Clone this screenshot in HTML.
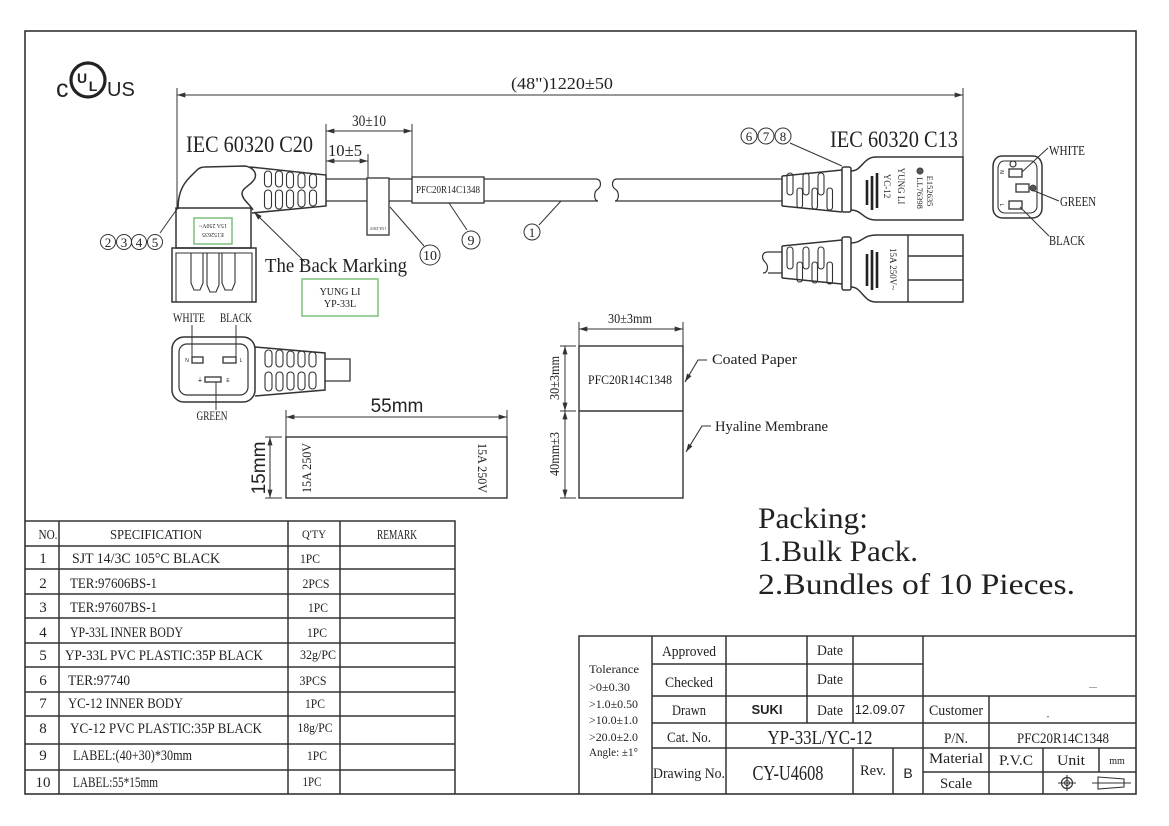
<!DOCTYPE html>
<html><head><meta charset="utf-8"><style>
html,body{margin:0;padding:0;background:#fff;}
svg{display:block;}
text{font-family:"Liberation Serif","Noto Serif CJK SC",serif;fill:#222;stroke:none;}
.s{font-family:"Liberation Sans","Noto Sans CJK SC",sans-serif;}
</style></head><body>
<svg width="1169" height="826" viewBox="0 0 1169 826" xmlns="http://www.w3.org/2000/svg">
<defs>
<marker id="ar" viewBox="0 0 10 6" refX="10" refY="3" markerWidth="9" markerHeight="5" orient="auto-start-reverse" markerUnits="userSpaceOnUse"><path d="M0,0 L10,3 L0,6 z" fill="#333"/></marker>
</defs>
<rect width="1169" height="826" fill="#fff"/>
<g fill="none" stroke="#333" stroke-width="1.3">
<!-- frame -->
<rect x="25" y="31" width="1111" height="763" stroke-width="1.6"/>

<!-- top dimension -->
<line x1="177" y1="95" x2="963" y2="95" marker-start="url(#ar)" marker-end="url(#ar)" stroke-width="1"/>
<line x1="177" y1="88" x2="177" y2="210" stroke-width="1"/>
<line x1="963" y1="88" x2="963" y2="157" stroke-width="1"/>
<line x1="326" y1="131" x2="412" y2="131" marker-start="url(#ar)" marker-end="url(#ar)" stroke-width="1"/>
<line x1="326" y1="124" x2="326" y2="179" stroke-width="1"/>
<line x1="412" y1="124" x2="412" y2="177" stroke-width="1"/>
<line x1="326" y1="161" x2="368" y2="161" marker-start="url(#ar)" marker-end="url(#ar)" stroke-width="1"/>
<line x1="368" y1="154" x2="368" y2="178" stroke-width="1"/>

<!-- cUL logo -->
<circle cx="88" cy="80" r="17" stroke="#222" stroke-width="3.2"/>

<!-- C20 connector (top) -->
<path d="M178,209 C178,196 181,186 190,177 L197,170 C199,168 201,167 205,167 L245,166 C252,167 257,172 255,178 C252,185 243,187 242,193 C242,200 250,204 253,210" stroke-width="1.5"/>
<rect x="176" y="208" width="75" height="40" stroke-width="1.5"/>
<rect x="172" y="248" width="84" height="54" stroke-width="1.5"/>
<path d="M176,302 V253 H252 V302" stroke-width="1.1"/>
<path d="M191,253 V283 L194,290 H200 L203,283 V253 M207,253 V285 L210,292 H216 L219,285 V253 M222,253 V283 L225,290 H232 L235,283 V253" stroke-width="1.1"/>
<rect x="194" y="218" width="38" height="26" stroke="#7dbf7d" stroke-width="1.5"/>
<path d="M250,167 L326,175 V206 L252,213" stroke-width="1.5"/>
<g stroke-width="1.1">
<rect x="264.5" y="171" width="7" height="16" rx="3.5"/><rect x="275.5" y="171" width="7" height="16" rx="3.5"/><rect x="286.5" y="172" width="7" height="16" rx="3.5"/><rect x="298" y="173" width="7" height="15" rx="3.5"/><rect x="309.5" y="174" width="7" height="14" rx="3.5"/>
<rect x="264.5" y="190" width="7" height="19" rx="3.5"/><rect x="275.5" y="190" width="7" height="19" rx="3.5"/><rect x="286.5" y="190" width="7" height="18" rx="3.5"/><rect x="298" y="190" width="7" height="17" rx="3.5"/><rect x="309.5" y="190" width="7" height="16" rx="3.5"/>
</g>
<!-- cable -->
<path d="M326,179 H596 M326,201 H598" stroke-width="1.3"/>
<path d="M596,179 C601,179 602,186 598,189 C593,192 594,201 598,201" stroke-width="1.2"/>
<path d="M617,179 C612,179 611,186 615,189 C620,192 619,201 615,201" stroke-width="1.2"/>
<path d="M617,179 H782 M615,201 H782" stroke-width="1.3"/>
<!-- flag label 10 -->
<rect x="367" y="178" width="22" height="57" fill="#fff" stroke-width="1.3"/>
<!-- PFC label -->
<rect x="412" y="177" width="72" height="26" fill="#fff" stroke-width="1.3"/>
<!-- leaders -->
<line x1="390" y1="207" x2="424" y2="246" stroke-width="1"/>
<circle cx="430" cy="255" r="10" stroke-width="1"/>
<line x1="449" y1="203" x2="467" y2="230" stroke-width="1"/>
<circle cx="471" cy="240" r="9" stroke-width="1"/>
<line x1="561" y1="201" x2="539" y2="225" stroke-width="1"/>
<circle cx="532" cy="232" r="8" stroke-width="1"/>
<line x1="160" y1="233" x2="177" y2="209" stroke-width="1"/>
<circle cx="108" cy="242" r="7.5" stroke-width="1"/><circle cx="124" cy="242" r="7.5" stroke-width="1"/><circle cx="139" cy="242" r="7.5" stroke-width="1"/><circle cx="155" cy="242" r="7.5" stroke-width="1"/>
<line x1="305" y1="262" x2="254" y2="212" marker-end="url(#ar)" stroke-width="1"/>
<rect x="302" y="279" width="76" height="37" stroke="#7dbf7d" stroke-width="1.5"/>

<!-- C20 face (middle) -->
<rect x="172" y="337" width="83" height="65" rx="12" stroke-width="1.5"/>
<rect x="179" y="344" width="69" height="51" rx="8" stroke-width="1.2"/>
<rect x="192" y="357" width="11" height="6" stroke-width="1.3"/>
<rect x="223" y="357" width="13" height="6" stroke-width="1.3"/>
<rect x="205" y="377" width="16" height="5" stroke-width="1.3"/>
<line x1="192" y1="325" x2="192" y2="358" stroke-width="1"/>
<line x1="236" y1="325" x2="236" y2="358" stroke-width="1"/>
<line x1="216" y1="382" x2="216" y2="410" stroke-width="1"/>
<path d="M255,347 L325,353 V390 L255,396" stroke-width="1.5"/>
<g stroke-width="1.1">
<rect x="265" y="350" width="7" height="17" rx="3.5"/><rect x="276" y="350" width="7" height="17" rx="3.5"/><rect x="287" y="351" width="7" height="16" rx="3.5"/><rect x="298" y="351" width="7" height="16" rx="3.5"/><rect x="309" y="352" width="7" height="15" rx="3.5"/>
<rect x="265" y="372" width="7" height="19" rx="3.5"/><rect x="276" y="372" width="7" height="19" rx="3.5"/><rect x="287" y="372" width="7" height="18" rx="3.5"/><rect x="298" y="372" width="7" height="18" rx="3.5"/><rect x="309" y="372" width="7" height="17" rx="3.5"/>
</g>
<path d="M325,359 H350 V381 H325" stroke-width="1.3"/>

<!-- 55x15 label -->
<line x1="286" y1="417" x2="507" y2="417" marker-start="url(#ar)" marker-end="url(#ar)" stroke-width="1"/>
<line x1="286" y1="410" x2="286" y2="437" stroke-width="1"/>
<line x1="507" y1="410" x2="507" y2="437" stroke-width="1"/>
<rect x="286" y="437" width="221" height="61" stroke-width="1.4"/>
<line x1="270" y1="437" x2="270" y2="498" marker-start="url(#ar)" marker-end="url(#ar)" stroke-width="1"/>
<line x1="265" y1="437" x2="282" y2="437" stroke-width="1"/>
<line x1="265" y1="498" x2="282" y2="498" stroke-width="1"/>

<!-- 30x70 label -->
<line x1="579" y1="329" x2="683" y2="329" marker-start="url(#ar)" marker-end="url(#ar)" stroke-width="1"/>
<line x1="579" y1="322" x2="579" y2="346" stroke-width="1"/>
<line x1="683" y1="322" x2="683" y2="346" stroke-width="1"/>
<rect x="579" y="346" width="104" height="152" stroke-width="1.4"/>
<line x1="579" y1="411" x2="683" y2="411" stroke-width="1.4"/>
<line x1="565" y1="346" x2="565" y2="411" marker-start="url(#ar)" marker-end="url(#ar)" stroke-width="1"/>
<line x1="565" y1="411" x2="565" y2="498" marker-start="url(#ar)" marker-end="url(#ar)" stroke-width="1"/>
<line x1="560" y1="346" x2="576" y2="346" stroke-width="1"/>
<line x1="560" y1="411" x2="576" y2="411" stroke-width="1"/>
<line x1="560" y1="498" x2="576" y2="498" stroke-width="1"/>
<polyline points="707,360 698,360 685,382" marker-end="url(#ar)" stroke-width="1.1"/>
<polyline points="711,426 702,426 686,452" marker-end="url(#ar)" stroke-width="1.1"/>

<!-- C13 connector upper -->
<path d="M782,176 L842,170 M782,206 L842,212 M782,176 V206" stroke-width="1.5"/>
<rect x="842" y="167" width="9" height="45" rx="2" stroke-width="1.5"/>
<path d="M851,171 C862,171 863,157 876,157 H963 V220 H876 C863,220 862,210 851,210" stroke-width="1.5"/>
<g stroke-width="1.1">
<rect x="787" y="173" width="6" height="22" rx="3"/><rect x="803" y="173" width="6" height="22" rx="3"/><rect x="818" y="173" width="6" height="22" rx="3"/>
<rect x="797" y="188" width="5.5" height="20" rx="2.7"/><rect x="812" y="188" width="5.5" height="21" rx="2.7"/><rect x="827" y="188" width="5.5" height="22" rx="2.7"/>
</g>
<path d="M867,180 V205 M872,176 V210 M877,173 V208" stroke="#222" stroke-width="2.6"/>
<circle cx="920" cy="171" r="3.2" fill="#555" stroke-width="0.6"/>
<line x1="790" y1="143" x2="842" y2="166" stroke-width="1"/>
<circle cx="749" cy="136" r="8" stroke-width="1"/><circle cx="766" cy="136" r="8" stroke-width="1"/><circle cx="783" cy="136" r="8" stroke-width="1"/>

<!-- C13 connector lower -->
<path d="M768,252 H782 M768,273 H782" stroke-width="1.3"/>
<path d="M768,252 C762,252 761,258 765,262 C769,266 768,273 763,273" stroke-width="1.2"/>
<path d="M782,246 L842,240 M782,278 L842,284 M782,246 V278" stroke-width="1.5"/>
<rect x="842" y="237" width="9" height="53" rx="2" stroke-width="1.5"/>
<path d="M851,243 C862,243 863,235 876,235 H963 V302 H876 C863,302 862,287 851,287" stroke-width="1.5"/>
<path d="M908,235 V302 M908,256 H963 M908,280 H963" stroke-width="1.4"/>
<g stroke-width="1.1">
<rect x="787" y="247" width="6" height="22" rx="3"/><rect x="803" y="247" width="6" height="22" rx="3"/><rect x="818" y="247" width="6" height="22" rx="3"/>
<rect x="797" y="262" width="5.5" height="20" rx="2.7"/><rect x="812" y="262" width="5.5" height="21" rx="2.7"/><rect x="827" y="262" width="5.5" height="22" rx="2.7"/>
</g>
<path d="M867,254 V286 M872,250 V290 M877,252 V288" stroke="#222" stroke-width="2.6"/>

<!-- C13 face right -->
<path d="M1002,156 H1033 C1039,156 1042,161 1042,167 V208 C1042,214 1038,218 1032,218 H1003 C997,218 993,214 993,208 V167 C993,161 996,156 1002,156 Z" stroke-width="1.5"/>
<path d="M1004,161 H1031 C1035,161 1037,165 1037,169 V206 C1037,210 1034,213 1030,213 H1005 C1001,213 998,210 998,206 V169 C998,165 1000,161 1004,161 Z" stroke-width="1.1"/>
<rect x="1009" y="169" width="13" height="8" stroke-width="1.3"/>
<rect x="1016" y="184" width="13" height="8" stroke-width="1.3"/>
<rect x="1009" y="201" width="13" height="8" stroke-width="1.3"/>
<circle cx="1013" cy="164" r="3" stroke-width="1.2"/>
<circle cx="1033" cy="188" r="3" fill="#555" stroke-width="0.8"/>
<line x1="1048" y1="148" x2="1022" y2="172" stroke-width="1"/>
<line x1="1059" y1="201" x2="1032" y2="190" stroke-width="1"/>
<line x1="1049" y1="236" x2="1020" y2="207" stroke-width="1"/>

<!-- parts table -->
<g stroke-width="1.5">
<path d="M25,521 H455 V794 M59,521 V794 M288,521 V794 M340,521 V794"/>
<path d="M25,546 H455 M25,569 H455 M25,594 H455 M25,618 H455 M25,643 H455 M25,667 H455 M25,692 H455 M25,716 H455 M25,744 H455 M25,770 H455"/>
</g>

<!-- title block -->
<g stroke-width="1.5">
<path d="M579,794 V636 H1136"/>
<path d="M652,636 V794 M726,636 V794 M807,636 V723 M853,636 V723 M853,748 V794 M893,748 V794 M923,636 V794"/>
<path d="M652,664 H923 M652,696 H1136 M652,723 H1136 M652,748 H1136 M923,772 H1136"/>
<path d="M989,696 V794 M1043,748 V794 M1099,748 V772"/>
</g>
<circle cx="1067" cy="783" r="5.5" stroke-width="1.2"/>
<path d="M1058,783 H1076 M1067,775 V791" stroke-width="1.1"/>
<circle cx="1067" cy="783" r="2.5" stroke-width="1"/>
<path d="M1098,777 L1124,779 V787 L1098,789 Z M1092,783 H1131" stroke-width="1.1"/>
</g>

<!-- ===== TEXT ===== -->
<text class="s" x="56" y="97" font-size="25">c</text>
<text class="s" x="82" y="83" font-size="14" font-weight="bold" text-anchor="middle">U</text>
<text class="s" x="93" y="91" font-size="14" font-weight="bold" text-anchor="middle">L</text>
<text class="s" x="107" y="96" font-size="20">US</text>

<text x="562" y="89" font-size="17" text-anchor="middle" textLength="102" lengthAdjust="spacingAndGlyphs">(48")1220±50</text>
<text x="369" y="126" font-size="16" text-anchor="middle" textLength="34" lengthAdjust="spacingAndGlyphs">30±10</text>
<text x="328" y="156" font-size="17" textLength="34" lengthAdjust="spacingAndGlyphs">10±5</text>
<text x="186" y="152" font-size="23" textLength="127" lengthAdjust="spacingAndGlyphs">IEC 60320 C20</text>
<text x="830" y="147" font-size="23" textLength="128" lengthAdjust="spacingAndGlyphs">IEC 60320 C13</text>

<g transform="rotate(180 213 231)">
<text x="213" y="229" font-size="6" text-anchor="middle">E152635</text>
<text x="213" y="238" font-size="6" text-anchor="middle">15A 250V~</text>
</g>
<text x="378" y="231" font-size="4" text-anchor="middle" transform="rotate(180 378 229)">15A 250V</text>
<text x="448" y="193" font-size="10.5" text-anchor="middle" textLength="64" lengthAdjust="spacingAndGlyphs">PFC20R14C1348</text>

<text x="430" y="260" font-size="14" text-anchor="middle">10</text>
<text x="471" y="245" font-size="14" text-anchor="middle">9</text>
<text x="532" y="237" font-size="13" text-anchor="middle">1</text>
<text x="108" y="247" font-size="13" text-anchor="middle">2</text>
<text x="124" y="247" font-size="13" text-anchor="middle">3</text>
<text x="139" y="247" font-size="13" text-anchor="middle">4</text>
<text x="155" y="247" font-size="13" text-anchor="middle">5</text>
<text x="749" y="141" font-size="13" text-anchor="middle">6</text>
<text x="766" y="141" font-size="13" text-anchor="middle">7</text>
<text x="783" y="141" font-size="13" text-anchor="middle">8</text>

<text x="265" y="272" font-size="20" textLength="142" lengthAdjust="spacingAndGlyphs">The Back Marking</text>
<text x="340" y="295" font-size="10" text-anchor="middle">YUNG LI</text>
<text x="340" y="307" font-size="10" text-anchor="middle">YP-33L</text>

<text x="189" y="322" font-size="12.5" text-anchor="middle" textLength="32" lengthAdjust="spacingAndGlyphs">WHITE</text>
<text x="236" y="322" font-size="12.5" text-anchor="middle" textLength="32" lengthAdjust="spacingAndGlyphs">BLACK</text>
<text x="212" y="420" font-size="12.5" text-anchor="middle" textLength="31" lengthAdjust="spacingAndGlyphs">GREEN</text>
<text class="s" x="187" y="362" font-size="5" text-anchor="middle">N</text>
<text class="s" x="241" y="362" font-size="5" text-anchor="middle">L</text>
<text class="s" x="200" y="382" font-size="6" text-anchor="middle">⏚</text>
<text class="s" x="228" y="382" font-size="5" text-anchor="middle">E</text>

<text class="s" x="397" y="412" font-size="19" text-anchor="middle">55mm</text>
<text class="s" x="0" y="0" font-size="19" text-anchor="middle" transform="translate(265 468) rotate(-90)">15mm</text>
<text x="0" y="0" font-size="12.5" text-anchor="middle" transform="translate(311 468) rotate(-90)" textLength="50" lengthAdjust="spacingAndGlyphs">15A 250V</text>
<text x="0" y="0" font-size="12.5" text-anchor="middle" transform="translate(478 468) rotate(90)" textLength="50" lengthAdjust="spacingAndGlyphs">15A 250V</text>

<text x="630" y="323" font-size="13.5" text-anchor="middle" textLength="44" lengthAdjust="spacingAndGlyphs">30±3mm</text>
<text x="630" y="384" font-size="13" text-anchor="middle" textLength="84" lengthAdjust="spacingAndGlyphs">PFC20R14C1348</text>
<text x="0" y="0" font-size="13.5" text-anchor="middle" transform="translate(559 378) rotate(-90)" textLength="44" lengthAdjust="spacingAndGlyphs">30±3mm</text>
<text x="0" y="0" font-size="13.5" text-anchor="middle" transform="translate(559 454) rotate(-90)" textLength="44" lengthAdjust="spacingAndGlyphs">40mm±3</text>
<text x="712" y="364" font-size="15" textLength="85" lengthAdjust="spacingAndGlyphs">Coated Paper</text>
<text x="715" y="431" font-size="15" textLength="113" lengthAdjust="spacingAndGlyphs">Hyaline Membrane</text>

<text x="0" y="0" font-size="9" text-anchor="middle" transform="translate(898 186) rotate(90)">YUNG LI</text>
<text x="0" y="0" font-size="9" text-anchor="middle" transform="translate(884 186) rotate(90)">YC-12</text>
<text x="0" y="0" font-size="8.5" text-anchor="middle" transform="translate(917 193) rotate(90)">LL76398</text>
<text x="0" y="0" font-size="8.5" text-anchor="middle" transform="translate(927 191) rotate(90)">E152635</text>
<text x="0" y="0" font-size="9" text-anchor="middle" transform="translate(890 269) rotate(90)">15A 250V~</text>

<text class="s" x="1002" y="174" font-size="5" text-anchor="middle" transform="rotate(90 1002 172)">N</text>
<text class="s" x="1002" y="207" font-size="5" text-anchor="middle" transform="rotate(90 1002 205)">L</text>
<text x="1049" y="155" font-size="14" textLength="36" lengthAdjust="spacingAndGlyphs">WHITE</text>
<text x="1060" y="206" font-size="14" textLength="36" lengthAdjust="spacingAndGlyphs">GREEN</text>
<text x="1049" y="245" font-size="14" textLength="36" lengthAdjust="spacingAndGlyphs">BLACK</text>

<!-- packing -->
<text x="758" y="528" font-size="30" textLength="110" lengthAdjust="spacingAndGlyphs">Packing:</text>
<text x="758" y="561" font-size="30" textLength="160" lengthAdjust="spacingAndGlyphs">1.Bulk Pack.</text>
<text x="758" y="594" font-size="30" textLength="317" lengthAdjust="spacingAndGlyphs">2.Bundles of 10 Pieces.</text>

<!-- parts table text -->
<g font-size="15">
<text x="48" y="539" font-size="14" text-anchor="middle" textLength="19" lengthAdjust="spacingAndGlyphs">NO.</text>
<text x="156" y="539" font-size="14" text-anchor="middle" textLength="92" lengthAdjust="spacingAndGlyphs">SPECIFICATION</text>
<text x="314" y="538" font-size="12" text-anchor="middle" textLength="24" lengthAdjust="spacingAndGlyphs">Q'TY</text>
<text x="397" y="539" font-size="14" text-anchor="middle" textLength="40" lengthAdjust="spacingAndGlyphs">REMARK</text>

<text x="43" y="563" text-anchor="middle">1</text>
<text x="43" y="588" text-anchor="middle">2</text>
<text x="43" y="612" text-anchor="middle">3</text>
<text x="43" y="637" text-anchor="middle">4</text>
<text x="43" y="660" text-anchor="middle">5</text>
<text x="43" y="685" text-anchor="middle">6</text>
<text x="43" y="708" text-anchor="middle">7</text>
<text x="43" y="733" text-anchor="middle">8</text>
<text x="43" y="760" text-anchor="middle">9</text>
<text x="43" y="787" text-anchor="middle">10</text>

<text x="72" y="563" textLength="148" lengthAdjust="spacingAndGlyphs">SJT 14/3C 105°C BLACK</text>
<text x="70" y="588" textLength="87" lengthAdjust="spacingAndGlyphs">TER:97606BS-1</text>
<text x="70" y="612" textLength="87" lengthAdjust="spacingAndGlyphs">TER:97607BS-1</text>
<text x="70" y="637" textLength="113" lengthAdjust="spacingAndGlyphs">YP-33L INNER BODY</text>
<text x="65" y="660" textLength="198" lengthAdjust="spacingAndGlyphs">YP-33L PVC PLASTIC:35P BLACK</text>
<text x="68" y="685" textLength="62" lengthAdjust="spacingAndGlyphs">TER:97740</text>
<text x="68" y="708" textLength="115" lengthAdjust="spacingAndGlyphs">YC-12 INNER BODY</text>
<text x="70" y="733" textLength="192" lengthAdjust="spacingAndGlyphs">YC-12 PVC PLASTIC:35P BLACK</text>
<text x="73" y="760" textLength="119" lengthAdjust="spacingAndGlyphs">LABEL:(40+30)*30mm</text>
<text x="73" y="787" textLength="85" lengthAdjust="spacingAndGlyphs">LABEL:55*15mm</text>
</g>
<g font-size="12.5">
<text x="310" y="563" text-anchor="middle" textLength="20" lengthAdjust="spacingAndGlyphs">1PC</text>
<text x="316" y="588" text-anchor="middle" textLength="27" lengthAdjust="spacingAndGlyphs">2PCS</text>
<text x="318" y="612" text-anchor="middle" textLength="20" lengthAdjust="spacingAndGlyphs">1PC</text>
<text x="317" y="637" text-anchor="middle" textLength="20" lengthAdjust="spacingAndGlyphs">1PC</text>
<text x="318" y="659" text-anchor="middle" textLength="36" lengthAdjust="spacingAndGlyphs">32g/PC</text>
<text x="313" y="685" text-anchor="middle" textLength="27" lengthAdjust="spacingAndGlyphs">3PCS</text>
<text x="315" y="708" text-anchor="middle" textLength="20" lengthAdjust="spacingAndGlyphs">1PC</text>
<text x="315" y="732" text-anchor="middle" textLength="35" lengthAdjust="spacingAndGlyphs">18g/PC</text>
<text x="317" y="760" text-anchor="middle" textLength="20" lengthAdjust="spacingAndGlyphs">1PC</text>
<text x="312" y="786" text-anchor="middle" textLength="19" lengthAdjust="spacingAndGlyphs">1PC</text>
</g>

<!-- title block text -->
<g font-size="11.5">
<text x="589" y="673" textLength="50" lengthAdjust="spacingAndGlyphs">Tolerance</text>
<text x="589" y="691" textLength="41" lengthAdjust="spacingAndGlyphs">&gt;0±0.30</text>
<text x="589" y="708" textLength="49" lengthAdjust="spacingAndGlyphs">&gt;1.0±0.50</text>
<text x="589" y="724" textLength="49" lengthAdjust="spacingAndGlyphs">&gt;10.0±1.0</text>
<text x="589" y="741" textLength="49" lengthAdjust="spacingAndGlyphs">&gt;20.0±2.0</text>
<text x="589" y="756" textLength="49" lengthAdjust="spacingAndGlyphs">Angle: ±1°</text>
</g>
<g font-size="15" text-anchor="middle">
<text x="689" y="656" textLength="54" lengthAdjust="spacingAndGlyphs">Approved</text>
<text x="689" y="687" textLength="48" lengthAdjust="spacingAndGlyphs">Checked</text>
<text x="689" y="715" textLength="34" lengthAdjust="spacingAndGlyphs">Drawn</text>
<text x="689" y="742" textLength="44" lengthAdjust="spacingAndGlyphs">Cat. No.</text>
<text x="689" y="778" textLength="72" lengthAdjust="spacingAndGlyphs">Drawing No.</text>
<text x="830" y="655" textLength="26" lengthAdjust="spacingAndGlyphs">Date</text>
<text x="830" y="684" textLength="26" lengthAdjust="spacingAndGlyphs">Date</text>
<text x="830" y="715" textLength="26" lengthAdjust="spacingAndGlyphs">Date</text>
<text x="873" y="775" textLength="26" lengthAdjust="spacingAndGlyphs">Rev.</text>
<text x="956" y="715" textLength="54" lengthAdjust="spacingAndGlyphs">Customer</text>
<text x="956" y="743" textLength="24" lengthAdjust="spacingAndGlyphs">P/N.</text>
<text x="956" y="763" textLength="54" lengthAdjust="spacingAndGlyphs">Material</text>
<text x="956" y="788" textLength="32" lengthAdjust="spacingAndGlyphs">Scale</text>
<text x="1016" y="765" textLength="34" lengthAdjust="spacingAndGlyphs">P.V.C</text>
<text x="1071" y="765" textLength="28" lengthAdjust="spacingAndGlyphs">Unit</text>
<text x="1063" y="743" textLength="92" lengthAdjust="spacingAndGlyphs">PFC20R14C1348</text>
</g>
<text x="1117" y="764" font-size="10" text-anchor="middle">mm</text>
<text class="s" x="767" y="714" font-size="13" font-weight="bold" text-anchor="middle">SUKI</text>
<text class="s" x="880" y="714" font-size="13" text-anchor="middle">12.09.07</text>
<text class="s" x="908" y="778" font-size="14" text-anchor="middle">B</text>
<text x="820" y="744" font-size="20" text-anchor="middle" textLength="105" lengthAdjust="spacingAndGlyphs">YP-33L/YC-12</text>
<text x="788" y="780" font-size="21" text-anchor="middle" textLength="71" lengthAdjust="spacingAndGlyphs">CY-U4608</text>
<text x="1093" y="688" font-size="8" fill="#999" text-anchor="middle">....</text>
<text x="1048" y="719" font-size="8" fill="#999" text-anchor="middle">-</text>
</svg>
</body></html>
